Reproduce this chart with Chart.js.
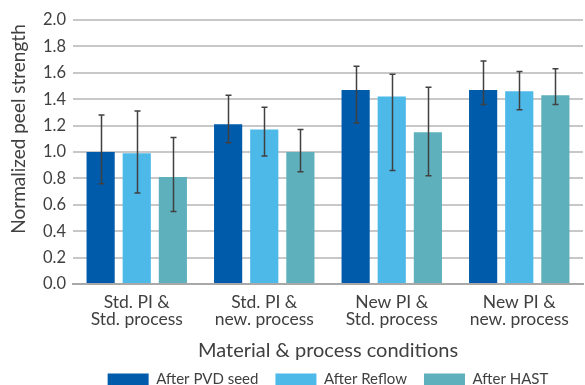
<!DOCTYPE html>
<html>
<head>
<meta charset="utf-8">
<script src="https://cdn.jsdelivr.net/npm/chart.js@4"></script>
<style>
  html, body { margin: 0; padding: 0; background: #fff; overflow: hidden; }
  #wrap { width: 585px; height: 397px; position: relative; }
</style>
</head>
<body>
<div id="wrap"><canvas id="chart"></canvas></div>
<script>
// Peel strength per condition, with error bar extents.
const categories = [
  ["Std. PI &", "Std. process"],
  ["Std. PI &", "new. process"],
  ["New PI &", "Std. process"],
  ["New PI &", "new. process"],
];
const seriesNames = ["After PVD seed", "After Reflow", "After HAST"];
const seriesColors = ["#005BAA", "#4DB9E8", "#5EB0BC"];

const pvdValues = [1.00, 1.21, 1.47, 1.47];
const pvdLow = [0.76, 1.07, 1.22, 1.36];
const pvdHigh = [1.28, 1.43, 1.65, 1.69];

const reflowValues = [0.99, 1.17, 1.42, 1.46];
const reflowLow = [0.69, 0.97, 0.86, 1.32];
const reflowHigh = [1.31, 1.34, 1.59, 1.61];

const hastValues = [0.81, 1.00, 1.15, 1.43];
const hastLow = [0.55, 0.85, 0.82, 1.36];
const hastHigh = [1.11, 1.17, 1.49, 1.63];

const yTicks = [0, 0.2, 0.4, 0.6, 0.8, 1.0, 1.2, 1.4, 1.6, 1.8, 2.0];

const FONT = "Lato, 'Open Sans', sans-serif";
const TEXT = "#404040";

const errorBars = {
  id: "errorBars",
  afterDatasetsDraw(chart) {
    const { ctx } = chart;
    const y = chart.scales.y;
    ctx.save();
    ctx.strokeStyle = "#404040";
    ctx.lineWidth = 1.5;
    chart.data.datasets.forEach((ds, i) => {
      const meta = chart.getDatasetMeta(i);
      meta.data.forEach((bar, j) => {
        const top = y.getPixelForValue(ds.high[j]);
        const bottom = y.getPixelForValue(ds.low[j]);
        const x = Math.round(bar.x) + 0.5;
        ctx.beginPath();
        ctx.moveTo(x, top);
        ctx.lineTo(x, bottom);
        ctx.moveTo(x - 3, top);
        ctx.lineTo(x + 3, top);
        ctx.moveTo(x - 3, bottom);
        ctx.lineTo(x + 3, bottom);
        ctx.stroke();
      });
    });
    ctx.restore();
  },
};

// Y title sits above the plot centre in the original, so draw it by hand.
const yTitle = {
  id: "yTitle",
  afterDraw(chart) {
    const { ctx } = chart;
    ctx.save();
    ctx.translate(19, 129);
    ctx.rotate(-Math.PI / 2);
    ctx.font = "19px " + FONT;
    ctx.fillStyle = TEXT;
    ctx.textAlign = "center";
    ctx.textBaseline = "middle";
    ctx.fillText("Normalized peel strength", 0, 0);
    ctx.restore();
  },
};

const makeSet = (i, values, low, high) => ({
  label: seriesNames[i],
  data: values,
  low,
  high,
  backgroundColor: seriesColors[i],
  categoryPercentage: 0.85,
  barPercentage: 0.78,
});

new Chart(document.getElementById("chart"), {
  type: "bar",
  data: {
    labels: categories,
    datasets: [
      makeSet(0, pvdValues, pvdLow, pvdHigh),
      makeSet(1, reflowValues, reflowLow, reflowHigh),
      makeSet(2, hastValues, hastLow, hastHigh),
    ],
  },
  options: {
    responsive: true,
    maintainAspectRatio: false,
    animation: false,
    layout: { padding: { top: 20, right: 2, left: 0, bottom: 0 } },
    plugins: {
      tooltip: { enabled: false },
      legend: {
        position: "bottom",
        fullSize: false,
        labels: {
          boxWidth: 41,
          boxHeight: 12,
          padding: 17,
          color: TEXT,
          font: { family: FONT, size: 15 },
        },
      },
    },
    scales: {
      x: {
        grid: { display: false, drawTicks: false },
        border: { color: "#a8a8a8", width: 2 },
        ticks: { color: TEXT, font: { family: FONT, size: 17.5, lineHeight: 0.97 }, padding: 10 },
        title: {
          display: true,
          text: "Material & process conditions",
          color: TEXT,
          font: { family: FONT, size: 20 },
          padding: { top: 1, bottom: -8 },
        },
      },
      y: {
        min: 0,
        max: 2,
        afterBuildTicks: (scale) => {
          scale.ticks = yTicks.map((v) => ({ value: v }));
        },
        afterFit: (scale) => {
          scale.width = 73;
        },
        grid: { color: "#c8c8c8", lineWidth: 2, drawTicks: false },
        border: { display: false },
        ticks: {
          color: TEXT,
          font: { family: FONT, size: 16.5 },
          padding: 7,
          callback: (v) => Number(v).toFixed(1),
        },
      },
    },
  },
  plugins: [errorBars, yTitle],
});
</script>
</body>
</html>
